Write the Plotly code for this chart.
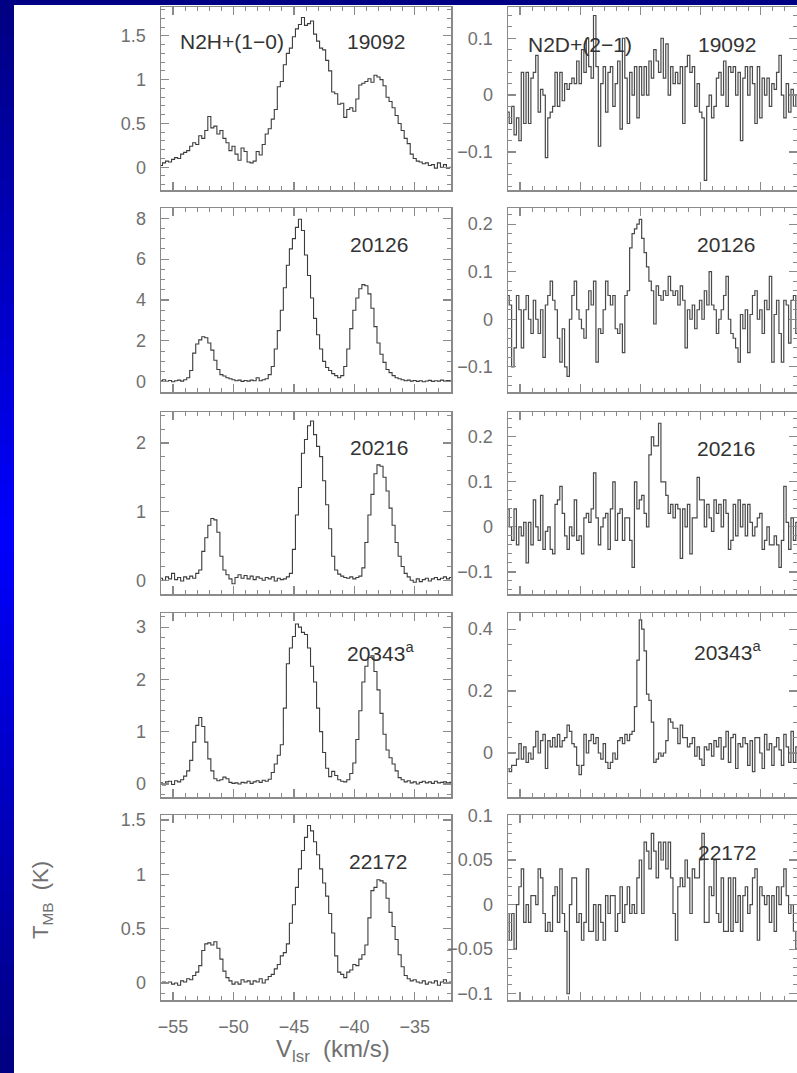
import numpy as np
import plotly.graph_objects as go

# ---------------- data ----------------
V0 = -56.0          # first channel velocity (km/s)
DV_N2H = 0.25       # channel width used for N2H+ spectra
DV_N2D = 0.2        # channel width used for N2D+ spectra

SOURCES = ["19092", "20126", "20216", "20343<sup>a</sup>", "22172"]
LINE_LEFT = "N2H+(1\u22120)"
LINE_RIGHT = "N2D+(2\u22121)"
X_TICKS = [-55, -50, -45, -40, -35]

N2H_19092 = [0.02, 0.05, 0.07, 0.06, 0.09, 0.11, 0.10, 0.15, 0.17, 0.19,
             0.24, 0.28, 0.26, 0.36, 0.33, 0.42, 0.58, 0.45, 0.47, 0.38,
             0.42, 0.33, 0.28, 0.19, 0.24, 0.15, 0.08, 0.22, 0.18, 0.06,
             0.05, 0.07, 0.18, 0.14, 0.26, 0.38, 0.44, 0.55, 0.66, 0.92,
             0.98, 1.17, 1.30, 1.36, 1.49, 1.58, 1.63, 1.71, 1.62, 1.64,
             1.67, 1.52, 1.44, 1.36, 1.34, 1.22, 1.10, 0.86, 0.84, 0.72,
             0.73, 0.57, 0.66, 0.68, 0.64, 0.78, 0.94, 0.96, 0.98, 1.01,
             0.97, 1.05, 1.03, 1.00, 0.93, 0.80, 0.75, 0.68, 0.59, 0.50,
             0.42, 0.33, 0.27, 0.15, 0.10, 0.07, 0.06, 0.04, 0.05, 0.02,
             0.03, -0.01, 0.05, 0.00, 0.03, -0.01, 0.00]
N2H_20126 = [0.05, 0.10, 0.02, 0.06, 0.00, 0.05, 0.08, 0.03, 0.10, 0.20,
             0.55, 1.40, 1.85, 2.05, 2.20, 2.15, 1.90, 1.55, 1.05, 0.60,
             0.35, 0.28, 0.20, 0.15, 0.10, 0.05, 0.08, 0.02, 0.06, 0.03,
             0.08, 0.05, 0.20, 0.05, 0.10, 0.15, 0.35, 0.75, 1.60, 2.50,
             3.50, 4.60, 5.70, 6.50, 7.00, 7.55, 7.95, 7.40, 6.20, 5.20,
             4.10, 3.10, 2.30, 1.60, 1.00, 0.70, 0.55, 0.40, 0.30, 0.20,
             0.30, 0.75, 1.60, 2.60, 3.50, 4.10, 4.55, 4.75, 4.70, 4.30,
             3.60, 2.70, 1.90, 1.35, 0.95, 0.60, 0.45, 0.30, 0.20, 0.15,
             0.10, 0.05, 0.08, 0.03, 0.06, 0.02, 0.05, 0.00, 0.04, 0.07,
             0.02, 0.05, 0.03, 0.08, 0.04, 0.06, 0.05]
N2H_20216 = [0.03, 0.00, 0.05, 0.02, 0.10, 0.01, 0.04, -0.01, 0.05, 0.02,
             0.06, 0.03, 0.10, 0.15, 0.42, 0.62, 0.80, 0.90, 0.88, 0.70,
             0.35, 0.15, 0.08, 0.02, -0.05, 0.04, 0.08, 0.03, 0.07, 0.02,
             0.06, 0.01, 0.05, 0.03, 0.00, 0.04, 0.02, 0.05, -0.01, 0.03,
             0.01, 0.02, 0.05, 0.10, 0.45, 0.95, 1.35, 1.85, 2.05, 2.25,
             2.32, 2.12, 1.95, 1.80, 1.45, 1.10, 0.75, 0.35, 0.15, 0.09,
             0.06, 0.04, 0.03, 0.05, 0.02, 0.04, 0.06, 0.18, 0.55, 0.95,
             1.25, 1.55, 1.68, 1.66, 1.50, 1.30, 1.05, 0.80, 0.55, 0.35,
             0.20, 0.10, 0.05, 0.00, -0.03, 0.02, -0.02, 0.01, 0.03, -0.01,
             0.02, 0.04, 0.01, 0.03, 0.05, 0.02, 0.04]
N2H_20343 = [0.02, -0.02, 0.04, 0.05, -0.01, 0.06, 0.04, 0.08, 0.15, 0.25,
             0.45, 0.80, 1.12, 1.27, 1.10, 0.80, 0.48, 0.25, 0.10, 0.06,
             0.08, 0.13, 0.10, 0.03, 0.01, 0.02, 0.00, 0.03, 0.02, 0.05,
             0.01, 0.04, 0.06, 0.03, 0.07, 0.05, 0.09, 0.22, 0.38, 0.55,
             0.75, 1.45, 2.30, 2.60, 2.82, 3.06, 3.00, 2.90, 2.86, 2.60,
             2.25, 1.95, 1.45, 1.00, 0.60, 0.30, 0.14, 0.24, 0.16, 0.08,
             0.05, 0.04, 0.08, 0.20, 0.40, 0.85, 1.40, 1.95, 2.25, 2.42,
             2.45, 2.15, 1.80, 1.35, 0.95, 0.65, 0.50, 0.38, 0.25, 0.12,
             0.08, 0.04, 0.06, 0.02, 0.04, 0.00, 0.03, 0.05, 0.02, 0.04,
             0.01, 0.05, 0.02, 0.03, 0.04, 0.02, 0.03]
N2H_22172 = [0.00, 0.01, 0.00, 0.01, -0.01, 0.00, -0.02, 0.02, 0.01, 0.04,
             0.03, 0.07, 0.10, 0.16, 0.30, 0.36, 0.37, 0.35, 0.38, 0.32,
             0.22, 0.11, 0.05, 0.02, -0.01, 0.01, -0.01, 0.03, 0.01, 0.02,
             -0.01, 0.02, 0.01, 0.04, 0.00, 0.03, 0.06, 0.08, 0.13, 0.17,
             0.25, 0.28, 0.36, 0.55, 0.72, 0.88, 1.05, 1.22, 1.34, 1.45,
             1.40, 1.30, 1.18, 1.05, 0.92, 0.80, 0.64, 0.46, 0.25, 0.10,
             0.08, 0.05, 0.10, 0.12, 0.17, 0.16, 0.22, 0.26, 0.35, 0.60,
             0.85, 0.88, 0.95, 0.94, 0.92, 0.78, 0.65, 0.52, 0.40, 0.26,
             0.15, 0.07, 0.04, 0.02, 0.03, 0.01, 0.00, 0.02, -0.01, 0.01,
             0.00, 0.02, -0.02, 0.01, 0.03, 0.00, 0.01]

N2D_19092 = [-0.03, -0.05, -0.02, -0.07, -0.04, -0.08, 0.04, -0.05, 0.04, -0.05,
             0.03, 0.04, 0.07, -0.03, 0.01, 0.00, -0.11, -0.04, -0.03, -0.02,
             0.04, -0.02, 0.04, -0.01, 0.02, 0.01, 0.02, 0.03, 0.02, 0.06,
             0.02, 0.08, 0.04, 0.10, 0.05, 0.03, 0.14, 0.05, -0.09, 0.02,
             0.05, -0.03, 0.04, 0.05, -0.02, 0.02, 0.06, -0.06, 0.10, 0.03,
             -0.05, 0.04, 0.00, 0.05, -0.04, 0.05, 0.00,
             0.05, 0.00, 0.06, 0.03, 0.08, 0.06, 0.04, 0.10, 0.03, 0.09,
             0.00, 0.05, 0.02, 0.04, 0.02, 0.05, -0.05, 0.05, 0.07, 0.04,
             0.05, -0.02, 0.02, -0.03, -0.04, -0.15, -0.02, 0.00, -0.04, -0.02,
             0.03, 0.04, 0.00, 0.06, -0.02, 0.05, 0.04, 0.05, 0.00, 0.04,
             -0.08, 0.03, 0.05, 0.00, 0.05, 0.02, -0.05, 0.05, -0.04, 0.03,
             0.00, 0.03, -0.02, 0.02, 0.01, 0.04, 0.07, 0.00, -0.04, 0.02,
             -0.03, 0.01, -0.02, 0.00]
N2D_20126 = [0.05, 0.03, -0.10, -0.06, 0.05, 0.02, -0.06, 0.02, 0.05, 0.00,
             -0.03, 0.04, 0.00, -0.03, 0.02, -0.08, 0.03, 0.05, 0.08, 0.04,
             0.02, -0.04, -0.09, -0.02, -0.10, -0.12, 0.00, 0.05, 0.08, 0.02,
             0.00, -0.02, -0.04, 0.02, 0.06, 0.03, 0.08, -0.09, -0.02, -0.03,
             0.02, 0.08, 0.05, 0.03, 0.05, -0.02, -0.03, -0.01, -0.07, 0.05,
             0.06, 0.15, 0.18, 0.19, 0.20, 0.21, 0.17, 0.14, 0.11, 0.08,
             0.06, -0.01,
             0.07, 0.05, 0.04, 0.06, 0.05, 0.09, 0.06, 0.05, 0.06, 0.03,
             0.07, 0.04, -0.06, 0.02, 0.00, 0.03, -0.02, 0.02, 0.04, 0.00,
             0.06, 0.03, 0.10, 0.03, 0.02, -0.03, 0.00, 0.02, 0.05, 0.09,
             0.00, -0.03, -0.04, -0.06, -0.09, 0.01, -0.02, 0.02, -0.07, 0.01,
             0.05, 0.06, 0.00, 0.02, -0.03, 0.04, 0.02, 0.09, -0.09, 0.01,
             0.04, -0.03, -0.09, 0.04, 0.03, -0.05, 0.04, 0.05, -0.03]
N2D_20216 = [0.04, 0.00, -0.03, 0.04, -0.04, 0.00, -0.02, 0.01, -0.08, 0.01,
             -0.04, 0.06, 0.00, -0.03, 0.07, -0.05, -0.01, 0.00, -0.05, -0.06,
             0.05, 0.06, 0.09, 0.03, -0.02, -0.05, 0.00, -0.02, 0.06, -0.03,
             -0.02, -0.06, 0.02, 0.03, 0.01, 0.04, 0.12, 0.02, -0.04, 0.00,
             0.02, 0.03, -0.05, 0.04, 0.10, -0.03, 0.03, 0.04, -0.03, 0.02,
             0.02, -0.03, -0.09, 0.10, 0.04, 0.06, 0.07, 0.03, 0.00, 0.16,
             0.20, 0.18, 0.18, 0.23, 0.10, 0.10, 0.07, 0.03, 0.05, 0.02,
             0.05, 0.04, -0.07, 0.04, 0.00, 0.05, -0.06, 0.02, 0.02, 0.11,
             0.06, 0.06, 0.00, 0.05, 0.02, -0.01, 0.06, 0.03, 0.05, 0.00,
             0.06, 0.03, -0.05, -0.03, 0.05, -0.02, 0.06, 0.00, 0.05, -0.02,
             0.05, 0.01, -0.02, 0.00, 0.02, 0.03, -0.05, -0.03, 0.00, -0.04,
             -0.04, -0.02, -0.04, -0.09, -0.03, 0.09, 0.01, -0.05, 0.02, -0.03,
             0.01]
N2D_20343 = [-0.05, -0.06, -0.04, -0.04, -0.02, 0.03, -0.02, 0.02, -0.03, 0.00,
             -0.02, 0.02, 0.07, 0.00, 0.04, 0.06, -0.05, 0.04, 0.02, 0.05,
             0.02, 0.06, 0.02, 0.04, 0.05, 0.09, 0.07, 0.03, 0.02, -0.04,
             -0.07, -0.04, 0.06, 0.00, 0.04, 0.06, 0.03, 0.05, 0.00, -0.02,
             0.03, -0.03, -0.05, -0.03, 0.00, -0.02, 0.04, 0.05, 0.03, 0.06,
             0.04, 0.06, 0.07, 0.15, 0.30, 0.43, 0.40, 0.33, 0.19, 0.17,
             0.10, -0.03, -0.02, 0.00, -0.01, 0.00, 0.04, 0.11, 0.10, 0.08,
             0.08, 0.03, 0.09, 0.05, 0.05, 0.02, 0.03, 0.05, -0.01, 0.02,
             -0.02, -0.04, 0.02, 0.01, 0.03, -0.01, 0.04, 0.02, 0.05, -0.02,
             0.02, 0.07, -0.03, 0.05, 0.06, -0.05, 0.03, 0.02, 0.05, 0.03,
             -0.04, 0.04, -0.06, 0.05, 0.05, 0.00, -0.05, 0.06, 0.01, 0.03,
             -0.04, 0.02, 0.05, 0.01, -0.04, 0.06, 0.02, -0.03, 0.07, -0.03,
             0.02]
N2D_22172 = [-0.01, -0.04, -0.01, -0.05, 0.00, 0.02, 0.04, -0.02, 0.00, -0.02,
             0.01, 0.01, 0.00, 0.04, 0.03, -0.01, -0.03, -0.02, -0.03, 0.01,
             0.02, -0.02, 0.04, -0.01, -0.03, -0.10, 0.00, 0.03, 0.03, -0.02,
             -0.01, -0.04, -0.02, 0.04, -0.03, -0.03, 0.00, -0.04, 0.00, -0.02,
             -0.04, 0.01, -0.01, 0.01, 0.01, -0.03, -0.01, 0.02, -0.02, 0.00,
             0.02, -0.01, 0.00, -0.01, 0.03, 0.05, -0.01, 0.07, 0.06, 0.04,
             0.08, 0.06, 0.03, 0.07, 0.05, 0.07, 0.04, 0.07, 0.03, -0.01,
             -0.04, 0.02, 0.03, 0.02, 0.05, 0.03, -0.01, 0.04, 0.03, 0.03,
             0.05, 0.08, -0.02, -0.02, 0.02, 0.01, 0.05, -0.01, -0.02, 0.03,
             -0.03, -0.03, 0.03, -0.03, 0.03, -0.02, 0.01, -0.03, 0.01, 0.02,
             -0.01, 0.00, 0.03, 0.04, -0.04, 0.02, 0.01, 0.00, 0.01, -0.02,
             0.01, -0.03, 0.02, 0.00, 0.02, 0.04, 0.01, -0.01, 0.00, -0.03,
             -0.05]

N2H_SPECTRA = [N2H_19092, N2H_20126, N2H_20216, N2H_20343, N2H_22172]
N2D_SPECTRA = [N2D_19092, N2D_20126, N2D_20216, N2D_20343, N2D_22172]
for s in N2H_SPECTRA:
    assert len(s) == 97, len(s)
for s in N2D_SPECTRA:
    assert len(s) == 121, len(s)

# ---------------- layout config ----------------
W, H = 797, 1073
LEFT_X = (161, 451)
RIGHT_X = (508, 797)
ROWS_Y = [(7, 190), (208, 392), (412, 594), (613, 797), (815, 1000)]

LEFT_YRANGE = [[-0.26, 1.83], [-0.5, 8.5], [-0.2, 2.45], [-0.25, 3.27], [-0.156, 1.546]]
LEFT_DTICK = [0.5, 2, 1, 1, 0.5]
LEFT_MINOR = [0.1, 0.5, 0.2, 0.2, 0.1]
RIGHT_YRANGE = [[-0.167, 0.155], [-0.153, 0.234], [-0.149, 0.255], [-0.142, 0.452], [-0.107, 0.1005]]
RIGHT_DTICK = [0.1, 0.1, 0.1, 0.2, 0.05]
RIGHT_MINOR = [0.02, 0.02, 0.02, 0.05, 0.01]

FONT = "Liberation Sans, Arial, Helvetica, sans-serif"
AXC = "#8a8a8a"
LABC = "#707070"
TXTC = "#333333"


def px_x(p):
    return p / W


def px_y(p):
    return 1 - p / H


fig = go.Figure()
layout = dict(width=W, height=H, autosize=False,
              margin=dict(l=0, r=0, t=0, b=0, pad=0, autoexpand=False),
              paper_bgcolor="white", plot_bgcolor="white",
              showlegend=False, font=dict(family=FONT, color=LABC, size=18))
annotations = []

for r in range(5):
    for c in range(2):
        k = r * 2 + c + 1
        xa = "x" if k == 1 else f"x{k}"
        ya = "y" if k == 1 else f"y{k}"
        xkey = "xaxis" if k == 1 else f"xaxis{k}"
        ykey = "yaxis" if k == 1 else f"yaxis{k}"
        if c == 0:
            dv, spec = DV_N2H, N2H_SPECTRA[r]
            yr, dt, mn = LEFT_YRANGE[r], LEFT_DTICK[r], LEFT_MINOR[r]
            xpx = LEFT_X
            lc, lw = "#3c3c3c", 1.1
        else:
            dv, spec = DV_N2D, N2D_SPECTRA[r]
            yr, dt, mn = RIGHT_YRANGE[r], RIGHT_DTICK[r], RIGHT_MINOR[r]
            xpx = RIGHT_X
            lc, lw = "#4a4a4a", 1.2
        vel = V0 + dv * np.arange(len(spec))
        fig.add_trace(go.Scatter(x=vel, y=spec, mode="lines",
                                 line=dict(shape="hvh", color=lc, width=lw),
                                 xaxis=xa, yaxis=ya, hoverinfo="skip"))
        y0, y1 = ROWS_Y[r]
        layout[xkey] = dict(
            domain=[px_x(xpx[0]), px_x(xpx[1])], anchor=ya,
            range=[-56, -32], tickmode="array", tickvals=X_TICKS,
            ticktext=[f"\u2212{abs(v)}" for v in X_TICKS],
            ticks="inside", ticklen=8, tickwidth=1.2, tickcolor=AXC,
            showline=True, linecolor=AXC, linewidth=1.5, mirror="ticks",
            showgrid=False, zeroline=False, automargin=False,
            showticklabels=(r == 4 and c == 0),
            tickfont=dict(family=FONT, size=18, color=LABC),
            ticklabelstandoff=10,
            minor=dict(tickmode="linear", tick0=-56, dtick=1, ticks="inside",
                       ticklen=4, tickwidth=1, tickcolor=AXC, showgrid=False))
        layout[ykey] = dict(
            domain=[px_y(y1), px_y(y0)], anchor=xa,
            range=yr, tickmode="linear", tick0=0, dtick=dt,
            ticks="inside", ticklen=8, tickwidth=1.2, tickcolor=AXC,
            showline=True, linecolor=AXC, linewidth=1.5, mirror="ticks",
            showgrid=False, zeroline=False, automargin=False,
            tickfont=dict(family=FONT, size=18, color=LABC),
            ticklabelstandoff=10,
            minor=dict(tickmode="linear", tick0=0, dtick=mn, ticks="inside",
                       ticklen=4, tickwidth=1, tickcolor=AXC, showgrid=False))

# source names / line names (pixel anchored positions)
SRC_POS_LEFT = [(376, 42), (379, 245), (379, 447), (380, 652), (378, 861)]
SRC_POS_RIGHT = [(727, 45), (726, 245), (726, 448), (727, 651), (727, 852)]
for r in range(5):
    for (px, py) in (SRC_POS_LEFT[r], SRC_POS_RIGHT[r]):
        annotations.append(dict(text=SOURCES[r], x=px_x(px), y=px_y(py),
                                xref="paper", yref="paper", showarrow=False,
                                xanchor="center", yanchor="middle",
                                font=dict(family=FONT, size=21, color=TXTC)))
annotations.append(dict(text=LINE_LEFT, x=px_x(232), y=px_y(42), xref="paper", yref="paper",
                        showarrow=False, xanchor="center", yanchor="middle",
                        font=dict(family=FONT, size=21, color=TXTC)))
annotations.append(dict(text=LINE_RIGHT, x=px_x(580), y=px_y(45), xref="paper", yref="paper",
                        showarrow=False, xanchor="center", yanchor="middle",
                        font=dict(family=FONT, size=21, color=TXTC)))
# axis titles
annotations.append(dict(text="V<sub>lsr</sub>  (km/s)", x=px_x(333), y=px_y(1050),
                        xref="paper", yref="paper", showarrow=False,
                        xanchor="center", yanchor="middle",
                        font=dict(family=FONT, size=24, color=LABC)))
annotations.append(dict(text="T<sub>MB</sub>  (K)", x=px_x(42), y=px_y(900),
                        xref="paper", yref="paper", showarrow=False, textangle=-90,
                        xanchor="center", yanchor="middle",
                        font=dict(family=FONT, size=22, color=LABC)))
layout["annotations"] = annotations

# slide background: blue gradient strips on the left and the top
shapes = []
NB = 60
LEFT_W = 14
TOP_H = 5
for i in range(NB):
    t = (i + 0.5) / NB
    f = 1 - abs(t - 0.5) / 0.5       # 0 at ends, 1 in the middle
    b = int(128 + 127 * f)
    col = f"rgb(0,0,{b})"
    shapes.append(dict(type="rect", xref="paper", yref="paper",
                       x0=0, x1=px_x(LEFT_W), y0=1 - (i + 1) / NB, y1=1 - i / NB + 0.001,
                       fillcolor=col, line=dict(width=0), layer="below"))
shapes.append(dict(type="rect", xref="paper", yref="paper",
                   x0=0, x1=1, y0=px_y(TOP_H), y1=1,
                   fillcolor="rgb(0,0,132)", line=dict(width=0), layer="below"))
layout["shapes"] = shapes

fig.update_layout(**layout)
fig.write_html("out.html",
               config={"displayModeBar": False, "staticPlot": True},
               post_script="document.body.style.margin='0';document.body.style.padding='0';"
                           "document.body.style.overflow='hidden';")
